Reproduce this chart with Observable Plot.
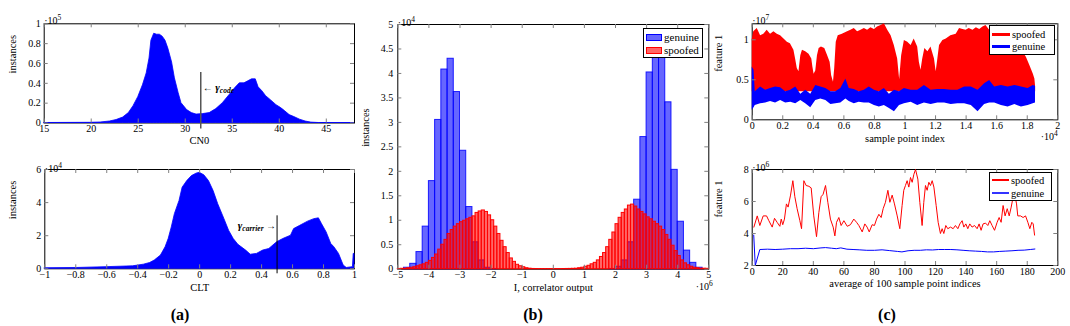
<!DOCTYPE html>
<html><head><meta charset="utf-8">
<script src="https://cdn.jsdelivr.net/npm/d3@7"></script>
<script src="https://cdn.jsdelivr.net/npm/@observablehq/plot@0.6"></script>
<style>
body{margin:0;background:#fff;}
#root{position:relative;width:1070px;height:326px;font-family:'Liberation Serif','DejaVu Serif',serif;color:#000;overflow:hidden;}
#root svg text{font-family:'Liberation Serif','DejaVu Serif',serif;}
.sub{position:absolute;font-weight:bold;font-size:16px;transform:translate(-50%,-50%);}
.leg{position:absolute;background:#fff;border:1px solid #000;box-sizing:border-box;}
.row{position:absolute;display:flex;align-items:center;white-space:nowrap;}
</style></head><body><div id="root"></div><script>
// ---------- DATA ----------
// (a) top: CN0 histogram envelope [CN0, instances ×10^5]
const cn0Hist = [[15,0],[19.9,0.002],[21,0.005],[22,0.015],[22.7,0.03],[23.4,0.055],[24,0.1],[24.5,0.17],[25,0.26],[25.5,0.38],[25.9,0.5],[26.2,0.65],[26.4,0.83],[26.7,0.9],[27.0,0.89],[27.3,0.89],[27.6,0.87],[27.9,0.83],[28.2,0.75],[28.6,0.61],[28.9,0.45],[29.3,0.3],[29.6,0.2],[30.2,0.13],[30.7,0.1],[31.2,0.085],[31.9,0.09],[32.6,0.1],[33.3,0.14],[34,0.2],[34.7,0.28],[35.3,0.35],[35.8,0.4],[36.3,0.4],[36.7,0.42],[37.1,0.44],[37.5,0.44],[37.8,0.36],[38.2,0.32],[38.6,0.27],[39.1,0.23],[39.7,0.18],[40.2,0.15],[40.6,0.12],[41.1,0.08],[41.6,0.06],[42.2,0.034],[42.8,0.015],[43.4,0.004],[44.2,0],[48,0]];
const gammaCode = 31.65, gammaCodeTop = 0.51;
// (a) bottom: CLT histogram envelope [CLT, instances ×10^4]
const cltHist = [[-1,0.03],[-0.79,0.05],[-0.6,0.1],[-0.43,0.15],[-0.36,0.25],[-0.32,0.35],[-0.29,0.5],[-0.25,0.8],[-0.22,1.3],[-0.2,1.8],[-0.18,2.5],[-0.16,3.3],[-0.13,4.1],[-0.11,4.9],[-0.08,5.3],[-0.05,5.6],[-0.02,5.75],[0,5.8],[0.03,5.65],[0.06,5.3],[0.09,4.7],[0.12,3.9],[0.16,3.0],[0.19,2.3],[0.22,1.8],[0.25,1.45],[0.3,1.1],[0.33,0.85],[0.37,0.9],[0.41,1.1],[0.45,1.2],[0.5,1.6],[0.54,1.8],[0.59,2.0],[0.61,2.4],[0.65,2.6],[0.7,2.85],[0.74,3.0],[0.77,3.05],[0.79,2.7],[0.82,2.2],[0.85,1.5],[0.87,1.3],[0.9,0.9],[0.93,0.2],[0.95,0.05],[0.99,0.1],[0.995,0.9],[1,0.9]];
const gammaCarrier = 0.5, gammaCarrierTop = 3.2;
// (b): histograms, x in ×10^6, counts ×10^4
const blueBinStart = [-4.8,-4.6,-4.4,-4.2,-4.0,-3.8,-3.6,-3.4,-3.2,-3.0,-2.8,-2.6,-2.4,-2.2,-2.0,1.8,2.0,2.2,2.4,2.6,2.8,3.0,3.2,3.4,3.6,3.8,4.0,4.2,4.4,4.6];
const blueCounts   = [0.03,0.11,0.35,0.87,1.8,3.05,4.08,4.3,3.62,2.42,1.27,0.55,0.18,0.03,0.005,0.005,0.05,0.18,0.55,1.42,2.7,4.02,4.6,4.45,3.41,2.03,0.97,0.38,0.13,0.03];
const blueBinWidth = 0.2;
const redBinFirst = -5, redBinWidth = 0.1;
const redCounts = [0.005,0.008,0.01,0.02,0.03,0.04,0.06,0.08,0.1,0.13,0.17,0.23,0.3,0.4,0.5,0.6,0.72,0.8,0.87,0.92,0.96,0.99,1.02,1.05,1.08,1.15,1.18,1.2,1.17,1.1,1.0,0.87,0.72,0.58,0.45,0.33,0.22,0.15,0.09,0.06,0.04,0.02,0.01,0.005,0.004,0.003,0.003,0.003,0.003,0.003,0.003,0.003,0.003,0.004,0.005,0.006,0.008,0.01,0.02,0.03,0.05,0.07,0.1,0.13,0.18,0.25,0.33,0.45,0.6,0.75,0.92,1.05,1.15,1.22,1.3,1.32,1.28,1.22,1.17,1.12,1.06,1.02,0.97,0.92,0.87,0.8,0.7,0.6,0.48,0.37,0.27,0.18,0.12,0.08,0.05,0.03,0.02,0.01,0.01,0.008];
// (c) top: envelopes, x ×10^4, feature ×10^7
const spoofTop = [[0,1.0],[0.01,1.1],[0.033,1.14],[0.055,1.05],[0.076,1.07],[0.098,1.12],[0.12,1.07],[0.142,1.1],[0.164,1.07],[0.186,1.05],[0.208,1.01],[0.23,0.97],[0.25,0.95],[0.273,0.87],[0.284,0.76],[0.295,0.64],[0.306,0.6],[0.318,0.8],[0.329,0.87],[0.35,0.85],[0.372,0.82],[0.39,0.76],[0.397,0.66],[0.405,0.57],[0.416,0.61],[0.427,0.8],[0.438,0.89],[0.453,0.91],[0.475,0.89],[0.49,0.82],[0.51,0.72],[0.52,0.55],[0.532,0.47],[0.54,0.64],[0.55,0.97],[0.563,1.05],[0.59,1.07],[0.624,1.1],[0.646,1.12],[0.668,1.14],[0.69,1.1],[0.712,1.12],[0.734,1.14],[0.755,1.12],[0.777,1.15],[0.8,1.13],[0.82,1.16],[0.843,1.18],[0.865,1.2],[0.887,1.12],[0.909,1.05],[0.93,0.93],[0.952,0.76],[0.965,0.5],[0.978,0.8],[0.996,0.99],[1.018,0.97],[1.04,0.93],[1.06,1.01],[1.083,0.91],[1.094,0.72],[1.105,0.62],[1.116,0.76],[1.13,0.89],[1.15,0.85],[1.17,0.91],[1.193,0.76],[1.204,0.6],[1.215,0.76],[1.226,0.93],[1.248,0.99],[1.27,1.01],[1.3,1.05],[1.335,1.07],[1.357,1.14],[1.379,1.13],[1.4,1.12],[1.42,1.14],[1.445,1.12],[1.467,1.15],[1.489,1.13],[1.51,1.16],[1.53,1.18],[1.554,1.12],[1.58,1.1],[1.61,1.1],[1.653,1.05],[1.697,1.0],[1.74,0.95],[1.773,0.85],[1.795,0.78],[1.817,0.68],[1.84,0.57],[1.85,0.51],[1.855,0.41]];
const spoofFloor = 0.35;
const genuineBand = [[0,0.12,0.66],[0.012,0.15,0.62],[0.02,0.18,0.35],[0.055,0.2,0.41],[0.088,0.21,0.37],[0.12,0.23,0.39],[0.153,0.21,0.41],[0.186,0.24,0.4],[0.219,0.21,0.35],[0.252,0.22,0.37],[0.285,0.2,0.41],[0.318,0.24,0.32],[0.35,0.2,0.37],[0.383,0.15,0.32],[0.416,0.24,0.43],[0.449,0.26,0.41],[0.482,0.24,0.39],[0.515,0.19,0.35],[0.547,0.2,0.35],[0.58,0.21,0.39],[0.613,0.26,0.51],[0.635,0.23,0.39],[0.668,0.2,0.38],[0.7,0.22,0.35],[0.734,0.21,0.37],[0.766,0.21,0.41],[0.8,0.18,0.37],[0.832,0.16,0.35],[0.865,0.18,0.39],[0.898,0.14,0.32],[0.931,0.1,0.37],[0.964,0.18,0.35],[0.996,0.2,0.39],[1.04,0.22,0.37],[1.083,0.18,0.37],[1.127,0.21,0.43],[1.171,0.19,0.37],[1.215,0.21,0.38],[1.259,0.21,0.38],[1.302,0.19,0.37],[1.346,0.2,0.37],[1.39,0.2,0.41],[1.434,0.18,0.41],[1.478,0.1,0.37],[1.521,0.19,0.45],[1.554,0.21,0.49],[1.587,0.21,0.41],[1.631,0.18,0.43],[1.675,0.16,0.41],[1.719,0.19,0.43],[1.762,0.16,0.41],[1.806,0.18,0.39],[1.839,0.2,0.43],[1.854,0.21,0.42]];
// (c) bottom: averaged feature, x index, feature ×10^6
const spoofAvg = [[1.1,4.4],[3.3,5.1],[5,4.5],[7.2,5.1],[9.4,5.1],[10.9,4.8],[13.1,4.4],[14.6,4.95],[16.3,4.7],[18.1,4.45],[19,4.9],[20,4.55],[21.1,4.9],[22.4,5.85],[23.5,5.65],[25.1,6.4],[26.6,7.3],[27.9,6.3],[29.4,5.55],[31.2,4.8],[32.3,4.3],[33.8,7.3],[35.3,7.0],[37.1,6.95],[38.6,6.85],[40.3,5.1],[42.1,3.8],[43.6,5.3],[45.1,6.3],[46.4,6.45],[48,7.0],[49.5,5.95],[51.2,4.9],[53,4.4],[54.1,3.85],[55.2,4.7],[56.7,5.0],[58.2,4.5],[60,4.8],[62.2,4.45],[64.3,4.55],[66.5,4.9],[68.3,4.7],[69.8,4.5],[72,4.1],[73.7,4.6],[75.2,4.4],[76.6,4.1],[78.5,4.55],[80,4.5],[81.4,4.9],[82.9,5.2],[84.4,5.0],[85.7,5.55],[87.2,5.95],[88.8,6.7],[90.1,5.95],[91.6,6.4],[93.1,5.85],[94.9,5.1],[96.6,4.3],[98.1,5.75],[99.2,6.7],[100.3,7.0],[101.4,7.3],[102.5,6.9],[103.6,7.5],[104.7,7.2],[105.8,7.7],[106.9,8.0],[108.4,7.4],[109.7,5.95],[111.2,4.5],[112.3,5.95],[113.4,7.0],[114.5,6.7],[115.6,7.2],[116.7,7.0],[117.8,7.3],[118.9,6.9],[120.4,5.75],[121.7,4.7],[123.2,4.0],[124.3,4.3],[125.4,4.0],[126.7,4.5],[128,4.3],[129.8,4.4],[131.5,4.3],[133,4.5],[134.6,4.3],[135.9,4.6],[137.4,4.8],[138.5,4.4],[139.8,4.6],[141.1,4.3],[142.4,4.6],[143.9,4.4],[145.5,4.5],[147.2,4.3],[148.5,4.6],[149.8,4.2],[151.1,4.6],[152.7,4.65],[154.2,4.5],[155.5,4.8],[157,4.5],[158.6,4.2],[160.3,4.7],[161.6,5.0],[162.9,4.7],[164.2,5.75],[165.5,5.1],[166.9,5.55],[168.2,5.1],[169.5,5.65],[170.8,6.3],[171.7,6.5],[173,5.85],[173.8,5.1],[175.6,5.1],[177.3,5.0],[178.9,5.1],[180.4,4.7],[181.7,4.3],[183,4.7],[183.9,4.6],[184.8,3.9]];
const genuineAvg = [[1,3.9],[2,2.0],[5,3.0],[10,3.02],[15,3.0],[20,3.02],[25,3.05],[30,3.05],[35,3.08],[40,3.05],[45,3.1],[48,3.12],[52,3.08],[55,3.05],[58,3.1],[62,3.02],[66,3.0],[70,2.98],[75,2.95],[80,2.95],[85,2.98],[90,2.93],[95,2.88],[98,2.85],[102,2.92],[106,2.95],[110,2.95],[114,2.98],[118,2.97],[122,3.0],[126,3.0],[130,3.0],[134,2.98],[138,2.95],[142,2.92],[146,2.9],[150,2.88],[154,2.85],[158,2.85],[162,2.88],[166,2.9],[170,2.92],[174,2.95],[178,2.96],[182,3.0],[185,3.03]];
// ticks
const ticksCN0 = [15,20,25,30,35,40,45], ticksCN0Y = [0,0.2,0.4,0.6,0.8,1];
const ticksCLT = [-1,-0.8,-0.6,-0.4,-0.2,0,0.2,0.4,0.6,0.8,1], ticksCLTY = [0,2,4,6];
const ticksB = [-5,-4,-3,-2,-1,0,1,2,3,4,5], ticksBY = [0,0.5,1,1.5,2,2.5,3,3.5,4,4.5,5];
const ticksCT = [0,0.2,0.4,0.6,0.8,1,1.2,1.4,1.6,1.8,2], ticksCTY = [0,0.5,1];
const ticksCB = [0,20,40,60,80,100,120,140,160,180,200], ticksCBY = [2,4,6,8];

// ---------- RENDER ----------
const BLUE = "#0000ff", RED = "#ff0000";
const FONT = "'Liberation Serif','DejaVu Serif',serif";
const root = document.getElementById("root");
const fmt = d3.format("~g");
const blueBins = blueBinStart.map((s, i) => ({x1: s, x2: s + blueBinWidth, v: blueCounts[i]}));
const redBins = redCounts.map((v, i) => ({x1: redBinFirst + i * redBinWidth, x2: redBinFirst + (i + 1) * redBinWidth, v}));

function rich(svg) {
  svg.querySelectorAll("text").forEach(t => {
    const s = t.textContent;
    let m = s.match(/^·10\^(\d+)$/);
    if (m) { t.innerHTML = `·10<tspan dy="-4" font-size="7.5">${m[1]}</tspan>`; return; }
    if (s === "← γ_code") t.innerHTML = `← <tspan font-style="italic" font-weight="bold" font-size="11">γ</tspan><tspan font-style="italic" font-weight="bold" font-size="7.5" dy="2">code</tspan>`;
    if (s === "γ_carrier →") t.innerHTML = `<tspan font-style="italic" font-weight="bold" font-size="11">γ</tspan><tspan font-style="italic" font-weight="bold" font-size="7.5" dy="2">carrier</tspan><tspan dy="-2"> →</tspan>`;
  });
}

function panel(o) {
  const fw = o.width - o.ml - o.mr, fh = o.height - o.mt - o.mb;
  const tk = "#808080";
  const marks = [
    Plot.frame({stroke: "#000"}),
    ...o.marks,
    Plot.tickX(o.xTicks, {x: d => d, insetTop: fh - 4, stroke: tk}),
    Plot.tickX(o.xTicks, {x: d => d, insetBottom: fh - 4, stroke: tk}),
    Plot.tickY(o.yTicks, {y: d => d, insetRight: fw - 4, stroke: tk}),
    Plot.tickY(o.yTicks, {y: d => d, insetLeft: fw - 4, stroke: tk}),
    Plot.axisX(o.xTicks, {tickSize: 0, tickPadding: 2, tickFormat: fmt, label: null, fontFamily: FONT}),
    Plot.axisY(o.yTicks, {tickSize: 0, tickPadding: o.yPad ?? 3.5, tickFormat: fmt, label: null, fontFamily: FONT}),
    Plot.text([o.xLabel], {text: d => d, frameAnchor: "bottom", dy: o.xLabelDy, fontSize: 10.5, fontFamily: FONT}),
    Plot.text([o.yLabel], {text: d => d, frameAnchor: "left", rotate: -90, dx: o.yLabelDx, fontSize: 10.5, fontFamily: FONT}),
    Plot.text([o.yMult], {text: d => d, frameAnchor: "top-left", textAnchor: "start", dx: 0, dy: o.yMultDy, fontFamily: FONT})
  ];
  if (o.xMult) marks.push(Plot.text([o.xMult], {text: d => d, frameAnchor: "bottom-right", textAnchor: "end", dx: o.xMultDx || 0, dy: o.xMultDy, fontFamily: FONT}));
  const svg = Plot.plot({
    width: o.width, height: o.height,
    marginLeft: o.ml, marginRight: o.mr, marginTop: o.mt, marginBottom: o.mb,
    x: {domain: o.xDomain}, y: {domain: o.yDomain},
    style: {fontFamily: FONT, fontSize: "10px", color: "#000", background: "transparent", overflow: "visible"},
    marks
  });
  svg.style.position = "absolute";
  svg.style.left = o.left + "px";
  svg.style.top = o.top + "px";
  rich(svg);
  root.append(svg);
}

// (a) top
panel({left: 0, top: 0, width: 360, height: 150, ml: 43.7, mr: 6, mt: 23.3, mb: 27.5,
  xDomain: [15, 48], yDomain: [0, 1], xTicks: ticksCN0, yTicks: ticksCN0Y,
  xLabel: "CN0", xLabelDy: 20.5, yLabel: "instances", yLabelDx: -31.7, yMult: "·10^5", yMultDy: -7,
  marks: [
    Plot.areaY(cn0Hist, {x: d => d[0], y: d => d[1], fill: BLUE, stroke: BLUE, strokeWidth: 0.8}),
    Plot.ruleX([gammaCode], {x: d => d, y1: gammaCodeTop, y2: 0, insetBottom: -6, stroke: "#555", strokeWidth: 1.5}),
    Plot.text([gammaCode], {x: d => d, frameAnchor: "middle", text: () => "← γ_code", textAnchor: "start", dx: 2, dy: 14, fontSize: 10, fontFamily: FONT})
  ]});
// (a) bottom
panel({left: 0, top: 150, width: 360, height: 150, ml: 44.3, mr: 6, mt: 19, mb: 31.7,
  xDomain: [-1, 1], yDomain: [0, 6], xTicks: ticksCLT, yTicks: ticksCLTY,
  xLabel: "CLT", xLabelDy: 21.7, yLabel: "instances", yLabelDx: -32.3, yMult: "·10^4", yMultDy: -5,
  marks: [
    Plot.areaY(cltHist, {x: d => d[0], y: d => d[1], fill: BLUE, stroke: BLUE, strokeWidth: 0.8}),
    Plot.ruleX([gammaCarrier], {x: d => d, y1: gammaCarrierTop, y2: 0, insetBottom: -5, stroke: "#000", strokeWidth: 1}),
    Plot.text([gammaCarrier], {x: d => d, frameAnchor: "middle", text: () => "γ_carrier →", textAnchor: "end", dx: -1, dy: 6.5, fontSize: 10, fontFamily: FONT})
  ]});
// (b)
panel({left: 350, top: 0, width: 370, height: 300, ml: 47.3, mr: 11.7, mt: 24, mb: 31.3,
  xDomain: [-5, 5], yDomain: [0, 5], xTicks: ticksB, yTicks: ticksBY, yPad: 4.5,
  xLabel: "I, correlator output", xLabelDy: 21.3, yLabel: "instances", yLabelDx: -32, yMult: "·10^4", yMultDy: -6,
  xMult: "·10^6", xMultDy: 20.5, xMultDx: 4,
  marks: [
    Plot.rectY(blueBins, {x1: "x1", x2: "x2", y: "v", fill: BLUE, fillOpacity: 0.6, stroke: BLUE, strokeOpacity: 0.85, strokeWidth: 1}),
    Plot.rectY(redBins, {x1: "x1", x2: "x2", y: "v", fill: RED, fillOpacity: 0.6, stroke: RED, strokeWidth: 1})
  ]});
// (c) top
panel({left: 710, top: 0, width: 360, height: 150, ml: 41.7, mr: 12.7, mt: 23.3, mb: 30.7,
  xDomain: [0, 2], yDomain: [0, 1.2], xTicks: ticksCT, yTicks: ticksCTY,
  xLabel: "sample point index", xLabelDy: 22.4, yLabel: "feature 1", yLabelDx: -33.4, yMult: "·10^7", yMultDy: -6.6,
  xMult: "·10^4", xMultDy: 20, xMultDx: 0,
  marks: [
    Plot.areaY(spoofTop, {x: d => d[0], y1: d => spoofFloor, y2: d => d[1], fill: RED}),
    Plot.areaY(genuineBand, {x: d => d[0], y1: d => d[1], y2: d => d[2], fill: BLUE})
  ]});
// (c) bottom
panel({left: 710, top: 150, width: 360, height: 150, ml: 41.7, mr: 12.7, mt: 19, mb: 35,
  xDomain: [0, 200], yDomain: [2, 8], xTicks: ticksCB, yTicks: ticksCBY,
  xLabel: "average of 100 sample point indices", xLabelDy: 21.7, yLabel: "feature 1", yLabelDx: -33.4, yMult: "·10^6", yMultDy: -5.7,
  marks: [
    Plot.line(spoofAvg, {x: d => d[0], y: d => d[1], stroke: RED, strokeWidth: 1}),
    Plot.line(genuineAvg, {x: d => d[0], y: d => d[1], stroke: BLUE, strokeWidth: 1})
  ]});

// ---------- LEGENDS ----------
function legend(box, items, swatch, fontSize) {
  const d = document.createElement("div");
  d.className = "leg";
  Object.assign(d.style, {left: box[0] + "px", top: box[1] + "px", width: box[2] + "px", height: box[3] + "px"});
  items.forEach((it, i) => {
    const r = document.createElement("div");
    r.className = "row";
    Object.assign(r.style, {left: "2px", top: (it.y - 6) + "px", height: "12px", fontSize: fontSize + "px"});
    const s = document.createElement("span");
    Object.assign(s.style, {display: "inline-block", width: swatch.w + "px", marginRight: "2px", boxSizing: "border-box"});
    if (swatch.kind === "rect") {
      Object.assign(s.style, {height: "7px", background: it.fill, border: "1px solid " + it.color});
    } else {
      Object.assign(s.style, {height: swatch.h + "px", background: it.color});
    }
    const t = document.createElement("span");
    t.textContent = it.name;
    r.append(s, t);
    d.append(r);
  });
  root.append(d);
}
const legB = ["genuine", "spoofed"], legC = ["spoofed", "genuine"];
legend([643, 28, 60, 30], [
  {name: legB[0], color: BLUE, fill: "rgba(0,0,255,0.6)", y: 8},
  {name: legB[1], color: RED, fill: "rgba(255,0,0,0.6)", y: 21}
], {kind: "rect", w: 16}, 11);
legend([989, 24.5, 65.5, 30], [
  {name: legC[0], color: RED, y: 8.5},
  {name: legC[1], color: BLUE, y: 20.5}
], {kind: "line", w: 18, h: 3}, 10.5);
legend([989, 171.5, 62.5, 29.5], [
  {name: legC[0], color: RED, y: 7.5},
  {name: legC[1], color: "#3333ff", y: 20.5}
], {kind: "line", w: 17, h: 1.2}, 10.5);

// ---------- SUB LABELS ----------
[["(a)", 180], ["(b)", 533], ["(c)", 887]].forEach(([t, x]) => {
  const d = document.createElement("div");
  d.className = "sub";
  d.textContent = t;
  d.style.left = x + "px";
  d.style.top = "315px";
  root.append(d);
});
</script></body></html>
